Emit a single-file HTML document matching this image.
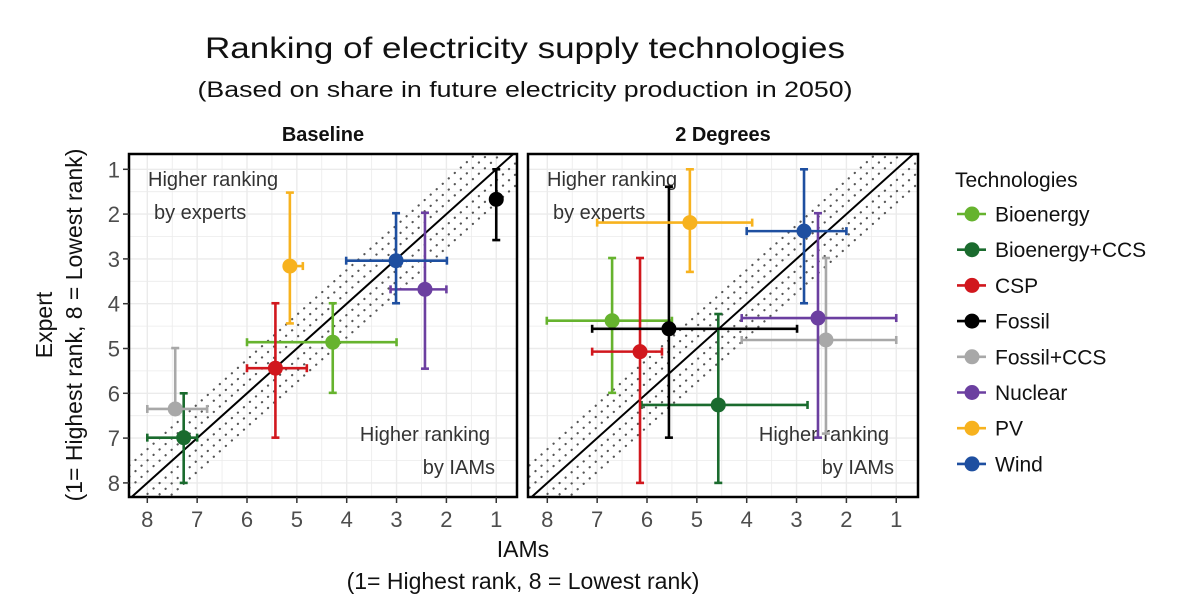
<!DOCTYPE html>
<html><head><meta charset="utf-8"><style>
body{margin:0;background:#fff;}
svg{display:block;font-family:"Liberation Sans",sans-serif;}
</style></head><body>
<svg id="chart" width="1200" height="607" viewBox="0 0 1200 607" xmlns="http://www.w3.org/2000/svg">
<defs>
<clipPath id="clipL"><rect x="129" y="154" width="388" height="343"/></clipPath>
<clipPath id="clipR"><rect x="528" y="154" width="390" height="343"/></clipPath>
</defs>
<text x="525" y="58" font-size="30" text-anchor="middle" textLength="640" lengthAdjust="spacingAndGlyphs" fill="#111">Ranking of electricity supply technologies</text>
<text x="525" y="97" font-size="22" text-anchor="middle" textLength="655" lengthAdjust="spacingAndGlyphs" fill="#111">(Based on share in future electricity production in 2050)</text>
<text x="323" y="141" font-size="20" font-weight="bold" text-anchor="middle" fill="#111">Baseline</text>
<text x="723" y="141" font-size="20" font-weight="bold" text-anchor="middle" fill="#111">2 Degrees</text>
<text transform="translate(52,325) rotate(-90)" font-size="23" text-anchor="middle" fill="#111">Expert</text>
<text transform="translate(82,325) rotate(-90)" font-size="23" text-anchor="middle" fill="#111">(1= Highest rank, 8 = Lowest rank)</text>
<text x="523" y="557" font-size="23" text-anchor="middle" fill="#111">IAMs</text>
<text x="523" y="589" font-size="23" text-anchor="middle" fill="#111">(1= Highest rank, 8 = Lowest rank)</text>
<g id="panels"></g>
<g id="legend"></g>
</svg>
<script>
const techs = ["Bioenergy","Bioenergy+CCS","CSP","Fossil","Fossil+CCS","Nuclear","PV","Wind"];
const colors = ["#66b32e","#1a6b2e","#d1171d","#000000","#a8a8a8","#6b3fa0","#f7b21e","#1e4fa0"];
// Baseline: iam x, expert y, x low/high, y low/high
const baseX   = [4.28,7.27,5.43,1.00,7.44,2.43,5.14,3.01];
const baseY   = [4.86,6.99,5.44,1.67,6.35,3.68,3.16,3.04];
const baseXlo = [6.00,8.00,6.00,null,8.00,3.12,5.14,4.01];
const baseXhi = [3.00,7.00,4.80,null,6.80,2.00,4.88,1.99];
const baseYlo = [3.99,6.00,3.99,1.00,4.99,1.97,1.52,1.98];
const baseYhi = [5.99,8.00,6.99,2.58,6.35,5.45,4.44,3.99];
// 2 Degrees
const degX   = [6.70,4.57,6.14,5.56,2.41,2.57,5.14,2.85];
const degY   = [4.38,6.26,5.07,4.56,4.81,4.32,2.19,2.38];
const degXlo = [8.01,6.11,7.10,7.10,4.10,4.10,7.00,4.00];
const degXhi = [5.50,2.78,5.70,2.99,1.00,1.00,3.89,2.00];
const degYlo = [2.98,4.23,2.98,1.39,2.98,1.98,1.00,1.00];
const degYhi = [5.99,8.00,8.00,6.99,6.90,6.99,3.29,3.99];
const ticks = [1,2,3,4,5,6,7,8];

const NS="http://www.w3.org/2000/svg";
function mk(tag, attrs, parent){const e=document.createElementNS(NS,tag);for(const k in attrs)e.setAttribute(k,attrs[k]);parent.appendChild(e);return e;}
const panelsG=document.getElementById('panels');
const yScale = v => 169.3 + (v-1)*44.8;

function drawPanel(name, left, right, x8, clip, X, Y, Xlo, Xhi, Ylo, Yhi){
  const xs = v => x8 + (8-v)*49.85;
  const g=mk('g',{},panelsG);
  
  
  mk('rect',{x:left,y:154,width:right-left,height:343,fill:'#fff'},g);
  for(let v=0.5; v<=8.5; v+=0.5){
    const w = Number.isInteger(v)?1.4:0.8;
    const px=xs(v); if(px>left&&px<right) mk('line',{x1:px,x2:px,y1:154,y2:497,stroke:'#ebebeb','stroke-width':w},g);
    const py=yScale(v); if(py>154&&py<497) mk('line',{x1:left,x2:right,y1:py,y2:py,stroke:'#ebebeb','stroke-width':w},g);
  }
  const cg=mk('g',{'clip-path':'url(#'+clip+')'},g);
  const xa=8.6, xb=0.3;
  [-0.75,-0.5,-0.25,0.25,0.5,0.75].forEach(k=>{
    const l=mk('line',{x1:xs(xa),y1:yScale(xa+k),x2:xs(xb),y2:yScale(xb+k),stroke:'#555','stroke-width':2.2,'stroke-dasharray':'0.1 8','stroke-linecap':'round'},cg);
    
    
  });
  const d=mk('line',{x1:xs(xa),y1:yScale(xa),x2:xs(xb),y2:yScale(xb),stroke:'#000','stroke-width':2},cg);
  
  
  const a1=mk('text',{x:left+19,y:186,'font-size':20,fill:'#333'},g); a1.textContent='Higher ranking';
  
  
  const a2=mk('text',{x:left+25,y:219,'font-size':20,fill:'#333'},g); a2.textContent='by experts';
  
  
  const a3=mk('text',{x:left+361,y:441,'font-size':20,fill:'#333','text-anchor':'end'},g); a3.textContent='Higher ranking';
  
  
  const a4=mk('text',{x:left+366,y:474,'font-size':20,fill:'#333','text-anchor':'end'},g); a4.textContent='by IAMs';
  
  
  for(let i=0;i<techs.length;i++){
    const pg=mk('g',{},g);
    
    
    const c=colors[i], px=xs(X[i]), py=yScale(Y[i]);
    if(Xlo[i]!==null){
      const a=xs(Xlo[i]), b=xs(Xhi[i]);
      mk('line',{x1:a,x2:b,y1:py,y2:py,stroke:c,'stroke-width':2.6},pg);
      mk('line',{x1:a,x2:a,y1:py-4,y2:py+4,stroke:c,'stroke-width':2.6},pg);
      mk('line',{x1:b,x2:b,y1:py-4,y2:py+4,stroke:c,'stroke-width':2.6},pg);
    }
    const ya=yScale(Ylo[i]), yb=yScale(Yhi[i]);
    mk('line',{x1:px,x2:px,y1:ya,y2:yb,stroke:c,'stroke-width':2.6},pg);
    mk('line',{x1:px-4,x2:px+4,y1:ya,y2:ya,stroke:c,'stroke-width':2.6},pg);
    mk('line',{x1:px-4,x2:px+4,y1:yb,y2:yb,stroke:c,'stroke-width':2.6},pg);
    mk('circle',{cx:px,cy:py,r:7.5,fill:c},pg);
  }
  mk('rect',{x:left,y:154,width:right-left,height:343,fill:'none',stroke:'#000','stroke-width':2.5},g);
  ticks.forEach(t=>{
    const px=xs(t);
    mk('line',{x1:px,x2:px,y1:497,y2:503,stroke:'#333','stroke-width':1.5},g);
    const tl=mk('text',{x:px,y:527,'font-size':22,fill:'#4d4d4d','text-anchor':'middle'},g);
    tl.textContent=t;
    
    
  });
}
drawPanel('baseline',129,517,147.3,'clipL',baseX,baseY,baseXlo,baseXhi,baseYlo,baseYhi);
drawPanel('two-degrees',528,918,547.3,'clipR',degX,degY,degXlo,degXhi,degYlo,degYhi);
ticks.forEach(t=>{
  const py=yScale(t);
  mk('line',{x1:123,x2:129,y1:py,y2:py,stroke:'#333','stroke-width':1.5},panelsG);
  const tl=mk('text',{x:120,y:py+8,'font-size':22,fill:'#4d4d4d','text-anchor':'end'},panelsG);
  tl.textContent=t;
  
  
});
const lg=document.getElementById('legend');
const lt=mk('text',{x:955,y:187,'font-size':21,fill:'#111'},lg);
lt.textContent='Technologies';


techs.forEach((t,i)=>{
  const y=214+i*35.7;
  const eg=mk('g',{},lg);
  
  
  mk('line',{x1:957,x2:986,y1:y,y2:y,stroke:colors[i],'stroke-width':2.6},eg);
  mk('circle',{cx:972,cy:y,r:7.5,fill:colors[i]},eg);
  const tx=mk('text',{x:995,y:y+7.5,'font-size':21,fill:'#111'},eg);
  tx.textContent=t;
});
</script>
</body></html>
